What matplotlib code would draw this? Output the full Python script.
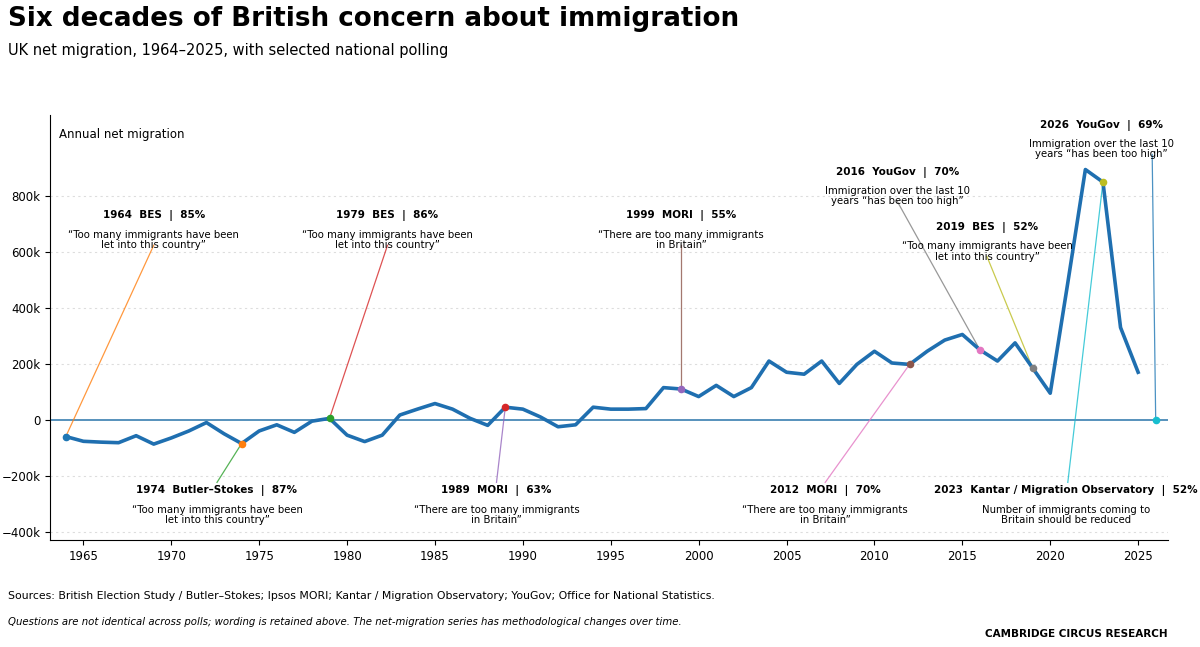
import matplotlib.pyplot as plt
import numpy as np

years = list(range(1964, 2026))
net_k = [-60,-77,-80,-82,-57,-87,-65,-40,-10,-50,-85,-40,-18,-45,-5,5,-55,-78,-55,17,
         38,58,38,5,-20,45,38,10,-25,-18,45,38,38,40,115,110,83,123,83,115,
         210,170,163,210,130,198,245,203,198,245,285,305,250,210,275,185,95,490,895,850,330,170]

poll_year = [1964,1974,1979,1989,1999,2012,2016,2019,2023,2026]
poll_title = ["1964  BES  |  85%","1974  Butler\u2013Stokes  |  87%","1979  BES  |  86%",
              "1989  MORI  |  63%","1999  MORI  |  55%","2012  MORI  |  70%",
              "2016  YouGov  |  70%","2019  BES  |  52%",
              "2023  Kantar / Migration Observatory  |  52%","2026  YouGov  |  69%"]
poll_quote = ["\u201cToo many immigrants have been\nlet into this country\u201d",
              "\u201cToo many immigrants have been\nlet into this country\u201d",
              "\u201cToo many immigrants have been\nlet into this country\u201d",
              "\u201cThere are too many immigrants\nin Britain\u201d",
              "\u201cThere are too many immigrants\nin Britain\u201d",
              "\u201cThere are too many immigrants\nin Britain\u201d",
              "Immigration over the last 10\nyears \u201chas been too high\u201d",
              "\u201cToo many immigrants have been\nlet into this country\u201d",
              "Number of immigrants coming to\nBritain should be reduced",
              "Immigration over the last 10\nyears \u201chas been too high\u201d"]
label_x = [1969.0,1972.6,1982.3,1988.5,1999.0,2007.2,2011.3,2016.4,2020.9,2022.9]
label_y = [729,-254,729,-254,729,-254,886,689,-254,1054]
line_end_x = [1969.0,1972.6,1982.3,1988.5,1999.0,2007.2,2011.3,2016.4,2021.0,2025.8]
yticks = [-400,-200,0,200,400,600,800]
xticks = [1965,1970,1975,1980,1985,1990,1995,2000,2005,2010,2015,2020,2025]

fig = plt.figure(figsize=(12,6.47), dpi=100)
ax = fig.add_axes([50/1200, 1-540/647, 1118/1200, 425/647])
ax.set_xlim(1963.1, 2026.7)
ax.set_ylim(-430, 1090)
for s in ['top','right']:
    ax.spines[s].set_visible(False)
ax.set_yticks(yticks)
ax.set_yticklabels(['\u2212400k','\u2212200k','0','200k','400k','600k','800k'])
ax.set_xticks(xticks)
ax.tick_params(labelsize=8.5)
for t in yticks:
    if t != 0:
        ax.axhline(t, color='#dddddd', lw=0.8, ls=(0,(2,3)), zorder=0)
ax.axhline(0, color='#3a7fb0', lw=1.2, zorder=1)
ax.plot(years, net_k, color='#1f6fb0', lw=2.6, zorder=3)

cols = plt.cm.tab10.colors
yr_map = dict(zip(years, net_k))
for i, py in enumerate(poll_year):
    pv = yr_map.get(py, 0)
    lc = cols[(i+1) % 10]
    top = label_y[i] > 0
    end_y = label_y[i] - 105 if top else label_y[i] + 30
    ax.plot([py, line_end_x[i]], [pv, end_y], color=lc, lw=0.9, alpha=0.8, zorder=2)
    ax.scatter([py], [pv], color=cols[i], s=20, zorder=4)
    ax.text(label_x[i], label_y[i], poll_title[i], ha='center', va='center',
            fontsize=7.5, fontweight='bold')
    ax.text(label_x[i], label_y[i]-50, poll_quote[i], ha='center', va='top',
            fontsize=7.3, linespacing=1.05)

ax.text(0.008, 0.955, 'Annual net migration', transform=ax.transAxes, fontsize=8.5, va='center')

fig.text(8/1200, 1-19/647, 'Six decades of British concern about immigration', fontsize=18.8,
         fontweight='bold', va='center')
fig.text(8/1200, 1-51/647, 'UK net migration, 1964\u20132025, with selected national polling',
         fontsize=10.5, va='center')
fig.text(8/1200, 1-596/647, 'Sources: British Election Study / Butler\u2013Stokes; Ipsos MORI; Kantar / Migration Observatory; YouGov; Office for National Statistics.',
         fontsize=7.8, va='center')
fig.text(8/1200, 1-622/647, 'Questions are not identical across polls; wording is retained above. The net-migration series has methodological changes over time.',
         fontsize=7.3, style='italic', va='center')
fig.text(1168/1200, 1-634/647, 'CAMBRIDGE CIRCUS RESEARCH', fontsize=7.5, fontweight='bold',
         ha='right', va='center')
fig.savefig('out.png', dpi=100)
